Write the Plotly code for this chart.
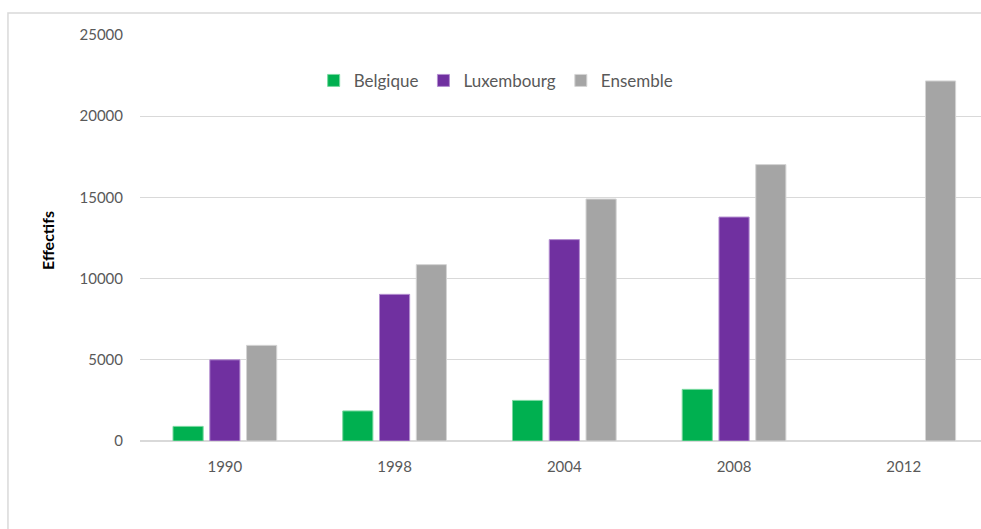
import plotly.graph_objects as go

annees = ["1990", "1998", "2004", "2008", "2012"]
belgique = [900, 1850, 2500, 3180, None]
luxembourg = [5000, 9030, 12400, 13790, None]
ensemble = [5890, 10860, 14900, 17020, 22170]

series = [
    ("Belgique", belgique, "#00b050", "#7ad9a0"),
    ("Luxembourg", luxembourg, "#7030a0", "#b48fd0"),
    ("Ensemble", ensemble, "#a5a5a5", "#d4d4d4"),
]

fig = go.Figure()
for nom, valeurs, couleur, bord in series:
    fig.add_trace(go.Bar(
        x=annees,
        y=valeurs,
        name=nom,
        marker=dict(color=couleur, line=dict(color=bord, width=1)),
    ))

grille = "#d9d9d9"
fig.update_layout(
    width=981,
    height=529,
    margin=dict(l=140, r=0, t=35, b=88),
    paper_bgcolor="white",
    plot_bgcolor="white",
    font=dict(family="Lato", color="#595959", size=15),
    barmode="group",
    bargap=0.35,
    bargroupgap=0.18,
    showlegend=True,
    legend=dict(
        orientation="h",
        x=0.4235, xanchor="center",
        y=0.887, yanchor="middle",
        font=dict(size=17, color="#595959"),
        itemwidth=30,
        bgcolor="rgba(0,0,0,0)",
    ),
    xaxis=dict(
        type="category",
        range=[-0.5, 4.455],
        showgrid=False,
        showline=True,
        linecolor=grille,
        linewidth=1,
        ticks="",
        ticklabelstandoff=12,
    ),
    yaxis=dict(
        range=[0, 25000],
        tickvals=[0, 5000, 10000, 15000, 20000, 25000],
        tickformat="d",
        showgrid=True,
        gridcolor=grille,
        gridwidth=1,
        zeroline=True,
        zerolinecolor=grille,
        ticks="",
        ticklabelstandoff=16,
    ),
    annotations=[dict(
        text="<b>Effectifs</b>",
        textangle=-90,
        xref="paper", yref="paper",
        x=-0.1106, y=0.495,
        xanchor="center", yanchor="middle",
        showarrow=False,
        font=dict(size=16, color="#000000"),
    )],
    shapes=[dict(
        type="rect",
        xref="paper", yref="paper",
        x0=-0.157, x1=1.2, y0=-0.5, y1=1.054,
        line=dict(color=grille, width=1.5),
        layer="below",
    )],
)

# sans marge ni barres de défilement pour occuper toute la fenêtre
fig.write_html(
    "out.html",
    config={"displayModeBar": False},
    post_script="document.body.style.margin='0';document.body.style.overflow='hidden';",
)
